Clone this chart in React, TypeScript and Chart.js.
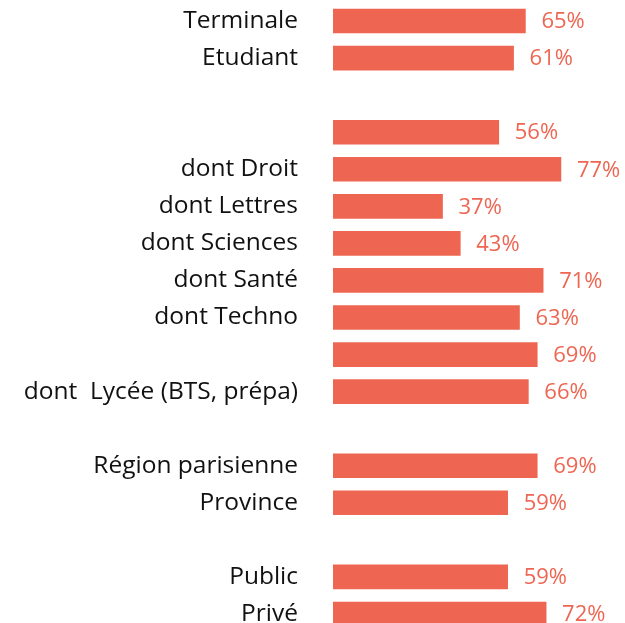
import React, { useEffect, useRef } from "react";
import { Chart, registerables } from "chart.js";

Chart.register(...registerables);

const categories: string[] = [
  "Terminale",
  "Etudiant",
  "",
  "",
  "dont Droit",
  "dont Lettres",
  "dont Sciences",
  "dont Santé",
  "dont Techno",
  "",
  "dont  Lycée (BTS, prépa)",
  "",
  "Région parisienne",
  "Province",
  "",
  "Public",
  "Privé",
];

const values: (number | null)[] = [
  65, 61, null, 56, 77, 37, 43, 71, 63, 69, 66, null, 69, 59, null, 59, 72,
];

const BAR_COLOR = "#EE6652";
const FONT = "'Open Sans', 'DejaVu Sans', sans-serif";

const valueLabels = {
  id: "valueLabels",
  afterDatasetsDraw(chart: any) {
    const ctx = chart.ctx;
    const meta = chart.getDatasetMeta(0);
    ctx.save();
    ctx.font = `22px ${FONT}`;
    ctx.fillStyle = BAR_COLOR;
    ctx.textAlign = "left";
    ctx.textBaseline = "middle";
    meta.data.forEach((el: any, i: number) => {
      const v = values[i];
      if (v === null || v === undefined) return;
      ctx.fillText(`${v}%`, el.x + 16, el.y + 1);
    });
    ctx.restore();
  },
};

export default function App() {
  const ref = useRef<HTMLCanvasElement | null>(null);
  useEffect(() => {
    if (!ref.current) return;
    const chart = new Chart(ref.current, {
      type: "bar",
      data: {
        labels: categories,
        datasets: [
          {
            data: values,
            backgroundColor: BAR_COLOR,
            borderWidth: 0,
            barThickness: 24,
          },
        ],
      },
      options: {
        indexAxis: "y",
        animation: false,
        responsive: false,
        maintainAspectRatio: false,
        layout: { padding: { top: 2.5, right: 0, bottom: 0.5, left: 0 } },
        plugins: {
          legend: { display: false },
          tooltip: { enabled: false },
        },
        scales: {
          x: {
            display: false,
            min: 0,
            max: 100,
          },
          y: {
            grid: { display: false, drawTicks: false },
            border: { display: false },
            ticks: {
              color: "#111111",
              font: { size: 24.5, family: FONT },
              padding: 35,
              autoSkip: false,
            },
            afterFit(scale: any) {
              scale.width = 333;
              scale.paddingTop = 0;
              scale.paddingBottom = 0;
            },
          },
        },
      },
      plugins: [valueLabels],
    });
    return () => chart.destroy();
  }, []);
  return (
    <div
      style={{
        position: "fixed",
        left: 0,
        top: 0,
        width: 629,
        height: 633,
      }}
    >
      <canvas ref={ref} width={629} height={633} style={{ display: "block" }} />
    </div>
  );
}
